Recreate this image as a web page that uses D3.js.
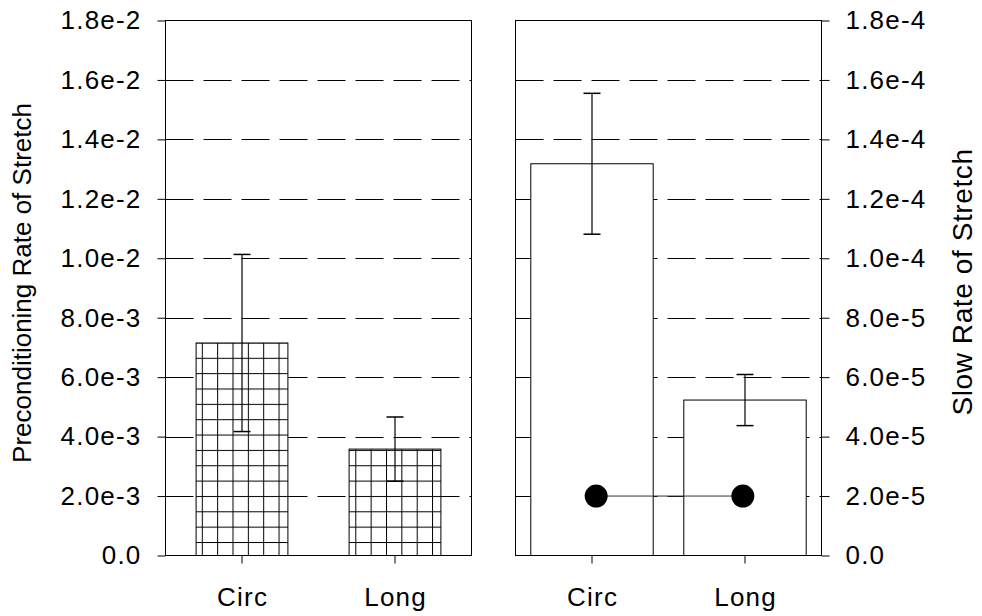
<!DOCTYPE html>
<html>
<head>
<meta charset="utf-8">
<script src="https://cdn.jsdelivr.net/npm/d3@7"></script>
<style>
  body { margin: 0; background: #fff; }
  svg { display: block; font-family: "Liberation Sans", Arial, sans-serif; }
</style>
</head>
<body>
<div id="vis"></div>
<script>
const FRAME_WIDTH = 982;
const FRAME_HEIGHT = 616;

// data
const categories = ["Circ", "Long"];
const precondMean = [7.15e-3, 3.58e-3];
const precondErr = [2.98e-3, 1.08e-3];
const slowMean = [1.318e-4, 5.23e-5];
const slowErr = [2.37e-5, 8.6e-6];
const slowDots = [2.0e-5, 2.0e-5];

const leftTicks = [0, 2e-3, 4e-3, 6e-3, 8e-3, 1e-2, 1.2e-2, 1.4e-2, 1.6e-2, 1.8e-2];
const leftTickLabels = ["0.0", "2.0e-3", "4.0e-3", "6.0e-3", "8.0e-3", "1.0e-2", "1.2e-2", "1.4e-2", "1.6e-2", "1.8e-2"];
const rightTicks = [0, 2e-5, 4e-5, 6e-5, 8e-5, 1e-4, 1.2e-4, 1.4e-4, 1.6e-4, 1.8e-4];
const rightTickLabels = ["0.0", "2.0e-5", "4.0e-5", "6.0e-5", "8.0e-5", "1.0e-4", "1.2e-4", "1.4e-4", "1.6e-4", "1.8e-4"];

// layout
const TOP = 20.5, BOTTOM = 555.5;
const LEFT_PANEL = {x0: 165.5, x1: 471.5};
const RIGHT_PANEL = {x0: 515.5, x1: 821.5};
const FONT = 26;

const svg = d3.select("#vis")
  .append("svg")
    .attr("width", FRAME_WIDTH)
    .attr("height", FRAME_HEIGHT);

// crosshatch pattern for the left bars
const pat = svg.append("defs").append("pattern")
    .attr("id", "hatch")
    .attr("patternUnits", "userSpaceOnUse")
    .attr("x", 201.8).attr("y", 357.8)
    .attr("width", 15.35).attr("height", 15.35);
pat.append("rect").attr("width", 15.35).attr("height", 15.35).attr("fill", "#fff");
pat.append("line").attr("x1", 0.5).attr("x2", 0.5).attr("y1", 0).attr("y2", 15.35)
  .attr("stroke", "#000").attr("stroke-width", 1);
pat.append("line").attr("y1", 0.5).attr("y2", 0.5).attr("x1", 0).attr("x2", 15.35)
  .attr("stroke", "#000").attr("stroke-width", 1);

// scales
const Y_LEFT = d3.scaleLinear().domain([0, 0.018]).range([BOTTOM, TOP]);
const Y_RIGHT = d3.scaleLinear().domain([0, 1.8e-4]).range([BOTTOM, TOP]);

const X_LEFT = d3.scaleBand().domain(categories)
  .range([LEFT_PANEL.x0, LEFT_PANEL.x1]).paddingInner(0.4).paddingOuter(0.2);
const X_RIGHT = d3.scaleBand().domain(categories)
  .range([RIGHT_PANEL.x0, RIGHT_PANEL.x1]).paddingInner(0.2).paddingOuter(0.1);
const X_DOTS = d3.scalePoint().domain(categories)
  .range([RIGHT_PANEL.x0, RIGHT_PANEL.x1 + 2]).padding(0.55);

function styleLabels(sel) {
  sel.selectAll("text")
    .attr("font-size", FONT)
    .attr("font-family", "Liberation Sans, Arial, sans-serif")
    .attr("letter-spacing", "1.2px")
    .attr("fill", "#000");
  sel.selectAll("line").attr("stroke", "#000");
}

function drawPanel(panel, xScale, yScale, ticks, mean, err, fill) {
  const g = svg.append("g");

  // dashed grid
  g.selectAll(".grid")
    .data(ticks.slice(1, -1))
    .enter()
    .append("line")
      .attr("x1", panel.x0).attr("x2", panel.x1)
      .attr("y1", d => Math.round(yScale(d)) + 0.5)
      .attr("y2", d => Math.round(yScale(d)) + 0.5)
      .attr("stroke", "#000")
      .attr("stroke-width", 1)
      .attr("stroke-dasharray", "28,10");

  // bars
  g.selectAll(".bar")
    .data(categories)
    .enter()
    .append("rect")
      .attr("x", d => xScale(d))
      .attr("y", (d, i) => yScale(mean[i]))
      .attr("width", xScale.bandwidth())
      .attr("height", (d, i) => BOTTOM - yScale(mean[i]))
      .attr("fill", fill)
      .attr("stroke", "#000")
      .attr("stroke-width", 1);

  // error bars
  const eb = g.selectAll(".err")
    .data(categories)
    .enter()
    .append("g")
      .attr("transform", d => "translate(" + (xScale(d) + xScale.bandwidth() / 2) + ",0)");
  eb.append("line")
    .attr("x1", 0).attr("x2", 0)
    .attr("y1", (d, i) => yScale(mean[i] + err[i]))
    .attr("y2", (d, i) => yScale(mean[i] - err[i]))
    .attr("stroke", "#000").attr("stroke-width", 1.2);
  eb.selectAll(".cap")
    .data((d, i) => [mean[i] + err[i], mean[i] - err[i]])
    .enter()
    .append("line")
      .attr("x1", -8.5).attr("x2", 8.5)
      .attr("y1", d => yScale(d)).attr("y2", d => yScale(d))
      .attr("stroke", "#000").attr("stroke-width", 1.5);

  // frame
  g.append("rect")
    .attr("x", panel.x0).attr("y", TOP)
    .attr("width", panel.x1 - panel.x0)
    .attr("height", BOTTOM - TOP)
    .attr("fill", "none")
    .attr("stroke", "#000")
    .attr("stroke-width", 1);

  // bottom axis
  const xAxis = g.append("g")
    .attr("transform", "translate(0," + BOTTOM + ")")
    .call(d3.axisBottom(xScale).tickSize(8).tickSizeOuter(0).tickPadding(24));
  xAxis.select(".domain").remove();
  styleLabels(xAxis);
  xAxis.selectAll("text").attr("dx", "0.6px");
  return g;
}

drawPanel(LEFT_PANEL, X_LEFT, Y_LEFT, leftTicks, precondMean, precondErr, "url(#hatch)");
drawPanel(RIGHT_PANEL, X_RIGHT, Y_RIGHT, rightTicks, slowMean, slowErr, "#fff");

// dots and connecting line on the right panel
svg.append("path")
  .datum(categories)
  .attr("d", d3.line().x(d => X_DOTS(d)).y((d, i) => Y_RIGHT(slowDots[i])))
  .attr("fill", "none")
  .attr("stroke", "#333")
  .attr("stroke-width", 1);
svg.selectAll(".dot")
  .data(categories)
  .enter()
  .append("circle")
    .attr("cx", d => X_DOTS(d))
    .attr("cy", (d, i) => Y_RIGHT(slowDots[i]))
    .attr("r", 11.5)
    .attr("fill", "#000");

// y axes
const yLeftAxis = svg.append("g")
  .attr("transform", "translate(" + LEFT_PANEL.x0 + ",0)")
  .call(d3.axisLeft(Y_LEFT).tickValues(leftTicks)
    .tickFormat((d, i) => leftTickLabels[i]).tickSize(8).tickSizeOuter(0).tickPadding(16));
yLeftAxis.select(".domain").remove();

const yRightAxis = svg.append("g")
  .attr("transform", "translate(" + RIGHT_PANEL.x1 + ",0)")
  .call(d3.axisRight(Y_RIGHT).tickValues(rightTicks)
    .tickFormat((d, i) => rightTickLabels[i]).tickSize(8).tickSizeOuter(0).tickPadding(16));
yRightAxis.select(".domain").remove();

styleLabels(yLeftAxis);
styleLabels(yRightAxis);

// axis titles
svg.append("text")
  .attr("transform", "translate(31," + ((TOP + BOTTOM) / 2 - 5) + ") rotate(-90)")
  .attr("text-anchor", "middle")
  .attr("font-size", FONT)
  .text("Preconditioning Rate of Stretch");

svg.append("text")
  .attr("transform", "translate(972," + ((TOP + BOTTOM) / 2 - 6) + ") rotate(-90)")
  .attr("text-anchor", "middle")
  .attr("font-size", 28)
  .attr("letter-spacing", "0.6px")
  .text("Slow Rate of Stretch");
</script>
</body>
</html>
